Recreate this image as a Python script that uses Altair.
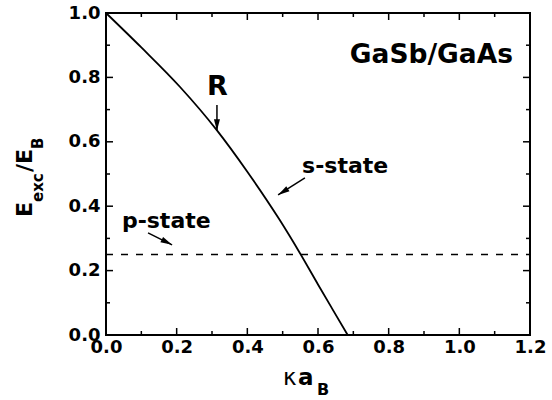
import altair as alt
import pandas as pd

# ---------------- data ----------------
curve_x = [0.0, 0.1, 0.209, 0.313, 0.4, 0.49, 0.549, 0.60, 0.64, 0.684]
curve_y = [1.0, 0.893, 0.771, 0.637, 0.507, 0.36, 0.254, 0.157, 0.082, 0.0]
p_state_level = 0.25

x_ticks = [0.0, 0.2, 0.4, 0.6, 0.8, 1.0, 1.2]
x_minor = [0.1, 0.3, 0.5, 0.7, 0.9, 1.1]
y_ticks = [0.0, 0.2, 0.4, 0.6, 0.8, 1.0]
y_minor = [0.1, 0.3, 0.5, 0.7, 0.9]

annot_text = ["GaSb/GaAs", "R", "s-state", "p-state"]
annot_x = [1.152, 0.315, 0.555, 0.045]
annot_y = [0.845, 0.745, 0.503, 0.332]

arrow_x = [0.314, 0.563, 0.119]
arrow_y = [0.714, 0.488, 0.317]
arrow_x2 = [0.314, 0.487, 0.187]
arrow_y2 = [0.634, 0.435, 0.280]
arrow_angle = [180, 238, 116.6]

# ---------------- layout ----------------
W, H = 424, 322
FONT = "DejaVu Sans"
xs = alt.Scale(domain=[0, 1.2], nice=False, zero=False)
ys = alt.Scale(domain=[0, 1.0], nice=False, zero=False)

axis_common = dict(title=None, grid=False, domain=False, ticks=False, tickSize=0,
                   format=".1f", labelFont=FONT, labelFontSize=18,
                   labelFontWeight="bold", labelColor="black",
                   labelOverlap=False, labelFlush=False)
x_axis = alt.Axis(values=x_ticks, labelPadding=3, **axis_common)
y_axis = alt.Axis(values=y_ticks, labelPadding=6, **axis_common)


def X(field):
    return alt.X(field, scale=xs, axis=x_axis)


def Y(field):
    return alt.Y(field, scale=ys, axis=y_axis)


curve_df = pd.DataFrame({"x": curve_x, "y": curve_y})
curve = alt.Chart(curve_df).mark_line(color="black", strokeWidth=1.8, interpolate="monotone").encode(
    x=X("x:Q"), y=Y("y:Q"),
)

dash_df = pd.DataFrame({"y": [p_state_level], "x0": [0.0], "x1": [1.2]})
dashed = alt.Chart(dash_df).mark_rule(color="black", strokeWidth=1.5, strokeDash=[7, 8]).encode(
    x=X("x0:Q"), x2="x1:Q", y=Y("y:Q"),
)


def tick_layers(values, length, horizontal):
    df = pd.DataFrame({"v": values})
    layers = []
    if horizontal:
        layers.append(alt.Chart(df).mark_rule(color="black", strokeWidth=1.5).encode(
            x=X("v:Q"), y=alt.value(H), y2=alt.value(H - length)))
        layers.append(alt.Chart(df).mark_rule(color="black", strokeWidth=1.5).encode(
            x=X("v:Q"), y=alt.value(0), y2=alt.value(length)))
    else:
        layers.append(alt.Chart(df).mark_rule(color="black", strokeWidth=1.5).encode(
            y=Y("v:Q"), x=alt.value(0), x2=alt.value(length)))
        layers.append(alt.Chart(df).mark_rule(color="black", strokeWidth=1.5).encode(
            y=Y("v:Q"), x=alt.value(W), x2=alt.value(W - length)))
    return layers


ticks = (tick_layers(x_ticks, 7, True) + tick_layers(x_minor, 4, True)
         + tick_layers(y_ticks, 7, False) + tick_layers(y_minor, 4, False))

# annotations
annot_sizes = [26.5, 27, 22, 22]
annot_align = ["right", "center", "left", "left"]
annots = []
for t, ax, ay, sz, al in zip(annot_text, annot_x, annot_y, annot_sizes, annot_align):
    d = pd.DataFrame({"x": [ax], "y": [ay], "t": [t]})
    annots.append(alt.Chart(d).mark_text(font=FONT, fontWeight="bold", fontSize=sz,
                                          align=al, baseline="alphabetic", color="black").encode(
        x=X("x:Q"), y=Y("y:Q"), text="t:N"))

arrow_df = pd.DataFrame({"x": arrow_x, "y": arrow_y, "x2": arrow_x2, "y2": arrow_y2,
                         "angle": arrow_angle})
arrow_shafts = alt.Chart(arrow_df).mark_rule(color="black", strokeWidth=1.5).encode(
    x=X("x:Q"), y=Y("y:Q"), x2="x2:Q", y2="y2:Q")
arrow_heads = alt.Chart(arrow_df).mark_point(
    shape="M0,0L0.55,2.1L-0.55,2.1Z", filled=True, color="black", size=121, opacity=1
).encode(
    x=X("x2:Q"), y=Y("y2:Q"), angle=alt.Angle("angle:Q", scale=None))

# axis titles built from pieces (with subscripts)
one = pd.DataFrame({"a": [0]})


def piece(text, px, py, size, weight="bold", angle=0):
    return alt.Chart(one).mark_text(text=text, font=FONT, fontSize=size, fontWeight=weight,
                                    align="left", baseline="alphabetic", angle=angle,
                                    color="black").encode(x=alt.value(px), y=alt.value(py))


title_pieces = [
    piece("E", -74, 204, 22, angle=270),
    piece("exc", -63, 189, 15, angle=270),
    piece("/E", -74, 159, 22, angle=270),
    piece("B", -63, 136, 15, angle=270),
    piece("κ", 177, 372, 23, weight="normal"),
    piece("a", 192, 372, 23),
    piece("B", 211, 382, 16),
]

chart = alt.layer(curve, dashed, *ticks, arrow_shafts, arrow_heads, *annots, *title_pieces).properties(
    width=W, height=H,
    padding={"left": 106, "top": 13, "right": 22, "bottom": 65},
    autosize=alt.AutoSizeParams(type="none"),
    background="white",
).configure_view(stroke="black", strokeWidth=2)

chart.save("out.html", embed_options={"renderer": "svg", "actions": False})
